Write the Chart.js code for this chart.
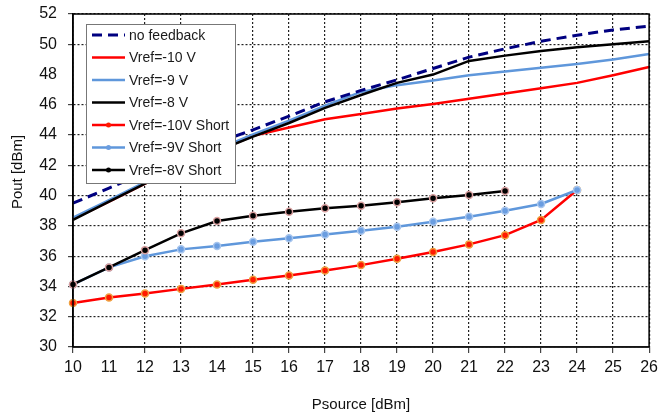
<!DOCTYPE html>
<html>
<head>
<meta charset="utf-8">
<script src="https://cdn.jsdelivr.net/npm/chart.js@4.4.1/dist/chart.umd.min.js"></script>
<style>
    html, body { margin: 0; padding: 0; background: #fff; }
</style>
</head>
<body>
<canvas id="poutChart" width="663" height="418"></canvas>
<script>
// Psource [dBm]
const psource = ['10', '11', '12', '13', '14', '15', '16', '17', '18', '19', '20', '21', '22', '23', '24', '25', '26'];
const poutTicks = [30, 32, 34, 36, 38, 40, 42, 44, 46, 48, 50, 52];

// Pout [dBm]
const noFeedback = [39.5, 40.5, 41.5, 42.5, 43.5, 44.35, 45.25, 46.2, 46.95, 47.65, 48.4, 49.15, 49.7, 50.2, 50.6, 50.95, 51.2];
const vref10 = [38.45, 39.6, 40.8, 41.9, 42.95, 43.95, 44.5, 45.05, 45.4, 45.75, 46.05, 46.4, 46.75, 47.1, 47.45, 47.95, 48.5];
const vref9 = [38.55, 39.7, 40.9, 42.0, 43.05, 44.05, 44.95, 45.95, 46.85, 47.3, 47.6, 47.95, 48.2, 48.45, 48.7, 49.0, 49.35];
const vref8 = [38.4, 39.6, 40.8, 41.9, 42.95, 43.9, 44.8, 45.8, 46.65, 47.45, 48.0, 48.9, 49.25, 49.55, 49.8, 50.0, 50.2];
const vref10Short = [32.9, 33.27, 33.54, 33.84, 34.13, 34.44, 34.73, 35.06, 35.41, 35.83, 36.27, 36.78, 37.39, 38.39, 40.37];
const vref9Short = [34.13, 35.26, 36.0, 36.45, 36.67, 36.95, 37.18, 37.44, 37.68, 37.94, 38.27, 38.6, 39.0, 39.45, 40.37];
const vref8Short = [34.13, 35.26, 36.4, 37.51, 38.32, 38.67, 38.94, 39.16, 39.33, 39.56, 39.82, 40.04, 40.3];

// grid lines that are missing in the original
const noGridX = ['11', '14'];
const noGridY = [48];

const BLUE = '#5f97db';

function shortSeries(label, data, color, fill, ring, order) {
    return {
        label: label,
        data: data,
        borderColor: color,
        borderWidth: 2.5,
        pointRadius: 3.5,
        pointBackgroundColor: fill,
        pointBorderColor: ring,
        pointBorderWidth: 1.5,
        order: order
    };
}

const datasets = [
    { label: 'no feedback', data: noFeedback, borderColor: '#000080', borderWidth: 3, borderDash: [10, 6], pointRadius: 0, order: 0 },
    { label: 'Vref=-10 V', data: vref10, borderColor: '#ff0000', borderWidth: 2.5, pointRadius: 0, order: 6 },
    { label: 'Vref=-9 V', data: vref9, borderColor: BLUE, borderWidth: 2.5, pointRadius: 0, order: 5 },
    { label: 'Vref=-8 V', data: vref8, borderColor: '#000000', borderWidth: 2.5, pointRadius: 0, order: 4 },
    shortSeries('Vref=-10V Short', vref10Short, '#ff0000', '#ff1a00', '#f0a040', 3),
    shortSeries('Vref=-9V Short', vref9Short, BLUE, '#6a9de0', '#a8c6ee', 2),
    shortSeries('Vref=-8V Short', vref8Short, '#000000', '#000000', '#d9a0a0', 1)
];

// frame, legend box and axis titles
const decorPlugin = {
    id: 'decor',
    afterDraw(chart) {
        const ctx = chart.ctx;
        const a = chart.chartArea;
        ctx.save();

        ctx.strokeStyle = '#000';
        ctx.lineWidth = 1.5;
        ctx.strokeRect(a.left, a.top, a.right - a.left, a.bottom - a.top);

        // legend
        ctx.fillStyle = '#fff';
        ctx.fillRect(86, 24, 149, 159);
        ctx.strokeStyle = '#777';
        ctx.lineWidth = 1;
        ctx.strokeRect(86.5, 24.5, 149, 159);

        ctx.font = '14px "Liberation Sans", Arial, sans-serif';
        ctx.textBaseline = 'middle';
        ctx.textAlign = 'left';
        chart.data.datasets.forEach((ds, i) => {
            const y = 35 + i * 22.5;
            ctx.beginPath();
            ctx.setLineDash(ds.borderDash || []);
            ctx.strokeStyle = ds.borderColor;
            ctx.lineWidth = ds.borderWidth;
            ctx.moveTo(92, y);
            ctx.lineTo(125, y);
            ctx.stroke();
            ctx.setLineDash([]);
            if (ds.pointRadius) {
                ctx.beginPath();
                ctx.arc(108.5, y, 2.5, 0, Math.PI * 2);
                ctx.fillStyle = ds.pointBackgroundColor;
                ctx.fill();
            }
            ctx.fillStyle = '#1a1a1a';
            ctx.fillText(ds.label, 129, y + 1);
        });

        // axis titles
        ctx.font = '15px "Liberation Sans", Arial, sans-serif';
        ctx.fillStyle = '#111';
        ctx.textAlign = 'center';
        ctx.fillText('Psource [dBm]', (a.left + a.right) / 2, 405);
        ctx.translate(18, 172);
        ctx.rotate(-Math.PI / 2);
        ctx.fillText('Pout [dBm]', 0, 0);

        ctx.restore();
    }
};

new Chart(document.getElementById('poutChart'), {
    type: 'line',
    data: { labels: psource, datasets: datasets },
    plugins: [decorPlugin],
    options: {
        responsive: false,
        animation: false,
        layout: { padding: { top: 14, right: 10, bottom: 0, left: 0 } },
        plugins: {
            legend: { display: false },
            tooltip: { enabled: false }
        },
        scales: {
            x: {
                afterFit: s => { s.height = 71; },
                grid: {
                    color: c => noGridX.includes(psource[c.index]) ? 'transparent' : '#222',
                    tickColor: c => noGridX.includes(psource[c.index]) ? 'transparent' : '#444',
                    lineWidth: 1.2,
                    tickLength: 6
                },
                border: { color: '#555', width: 1.5, dash: [2, 2] },
                ticks: {
                    color: '#111',
                    padding: 5,
                    maxRotation: 0,
                    autoSkip: false,
                    font: { family: '"Liberation Sans", Arial, sans-serif', size: 16 }
                }
            },
            y: {
                min: 30,
                max: 52,
                afterFit: s => {
                    s.width = 73;
                    s.paddingTop = 0;
                    s.paddingBottom = 0;
                },
                afterBuildTicks: axis => { axis.ticks = poutTicks.map(v => ({ value: v })); },
                grid: {
                    color: c => noGridY.includes(c.tick.value) ? 'transparent' : '#222',
                    tickColor: c => noGridY.includes(c.tick.value) ? 'transparent' : '#444',
                    lineWidth: 1.2,
                    tickLength: 5
                },
                border: { color: '#000', width: 1.5, dash: [2, 2] },
                ticks: {
                    color: '#111',
                    padding: 11,
                    font: { family: '"Liberation Sans", Arial, sans-serif', size: 16 }
                }
            }
        }
    }
});
</script>
</body>
</html>
